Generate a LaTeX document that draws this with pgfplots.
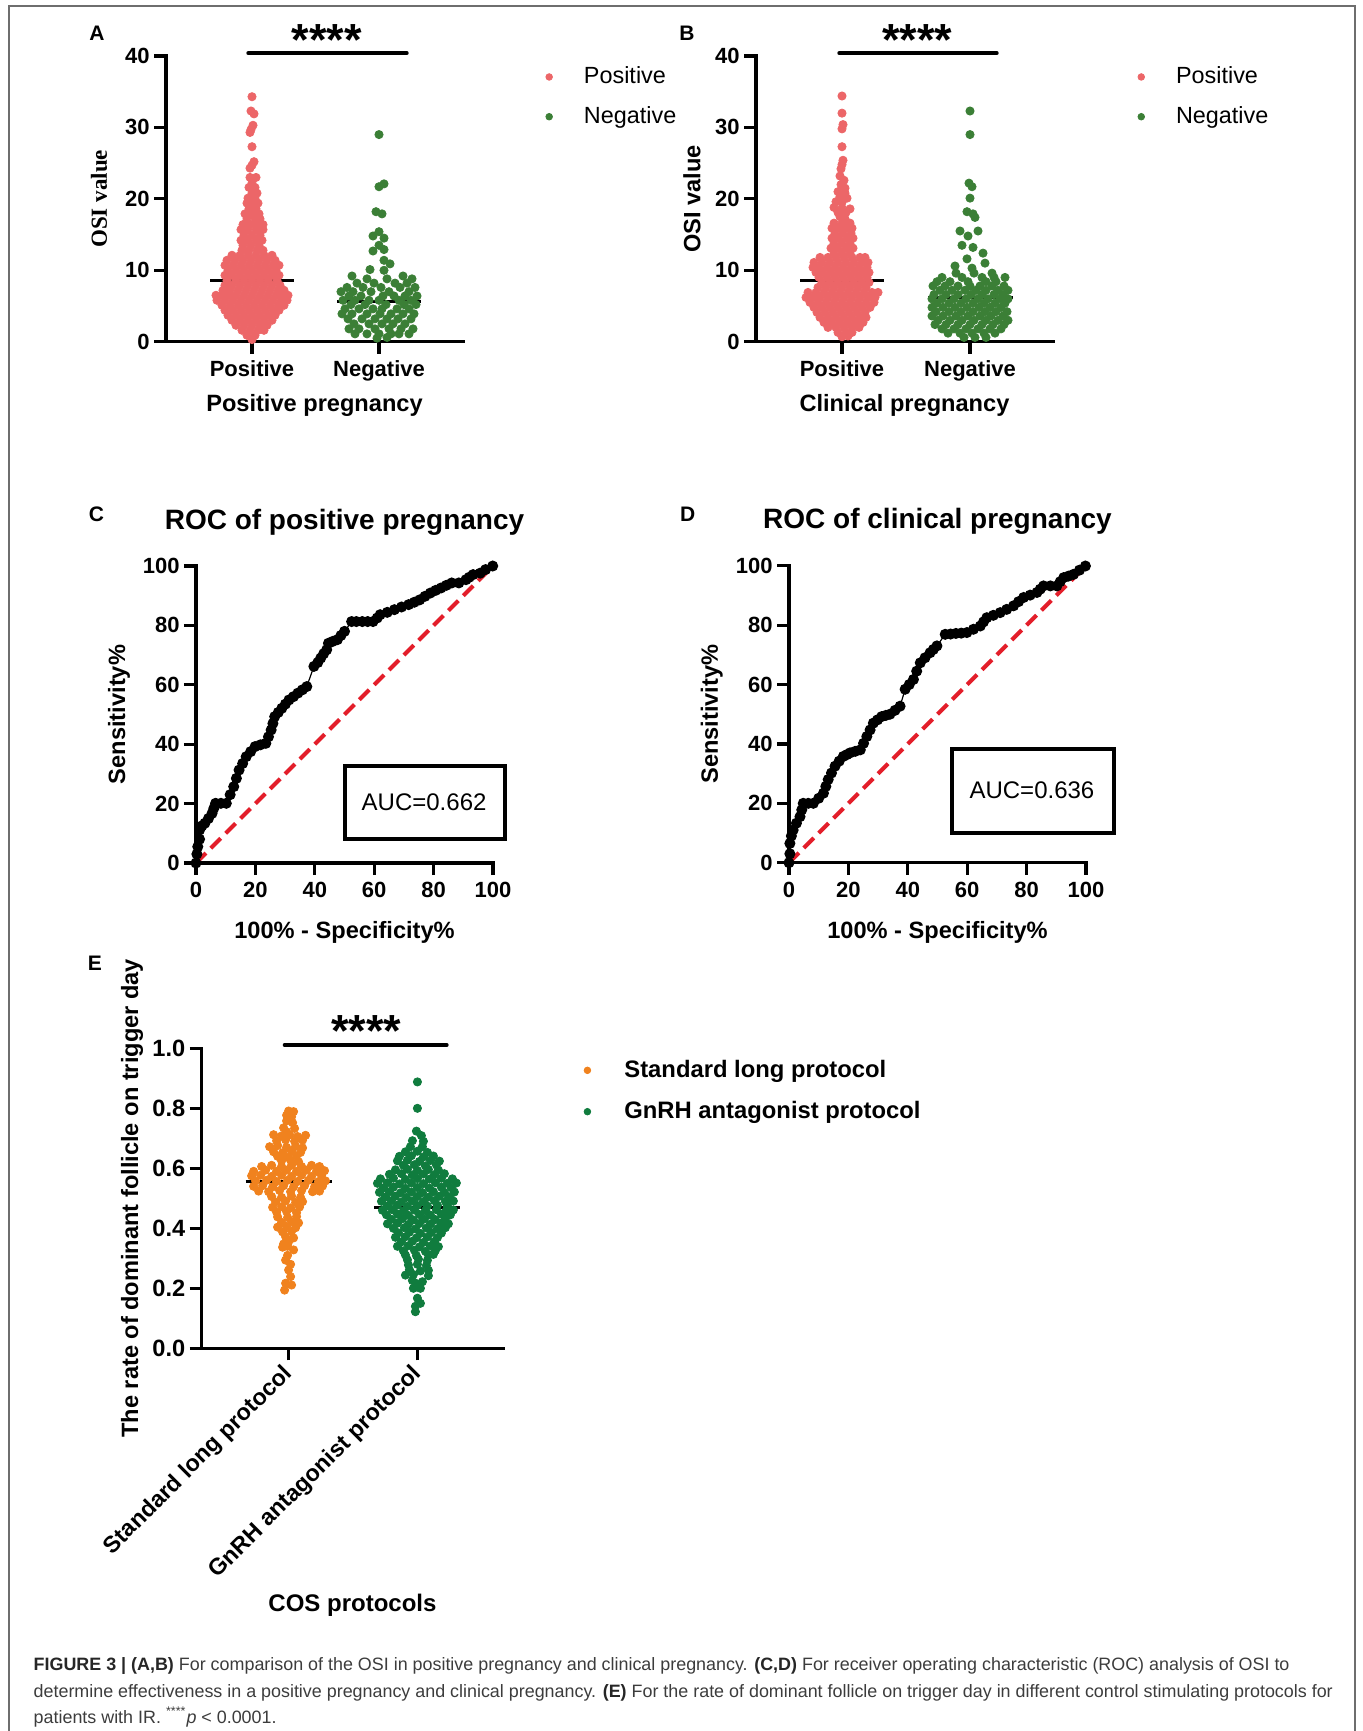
\documentclass[border=0pt]{standalone}
\usepackage{fontspec}
\setmainfont{Liberation Sans}
\newfontfamily\timesfont{Liberation Serif}
\usepackage{pgfplots}
\pgfplotsset{compat=1.18}

\definecolor{posred}{HTML}{EC6668}
\definecolor{neggreen}{HTML}{3B7F36}
\definecolor{stdorange}{HTML}{F0821E}
\definecolor{gnrhgreen}{HTML}{107C3E}
\definecolor{rocred}{HTML}{E31E2A}
\definecolor{framegray}{HTML}{6E6E6E}
\definecolor{captext}{HTML}{3C3C3C}

\newcommand\tk{\fontsize{11}{13}\selectfont\bfseries}
\newcommand\lb{\fontsize{11.8}{14}\selectfont\bfseries}
\newcommand\stars{\fontsize{22.5}{24}\selectfont\bfseries ****}

\pgfplotsset{
  gp/.style={
    scale only axis, clip=false,
    axis x line*=bottom, axis y line*=left,
    axis line style={-, line width=1.6pt, line cap=rect},
    outer axis line style={-}, inner axis line style={-},
    tick style={line width=1.6pt, black},
    tick align=outside, major tick length=6pt,
    ticklabel style={font=\tk},
    yticklabel style={inner xsep=2pt},
    /pgf/number format/assume math mode=true,
    label style={font=\lb},
  },
  dotlegend/.style={
    legend cell align=left,
    legend image code/.code={\draw[##1,mark size=1.65pt] plot coordinates {(0pt,0pt)}; \path (-2pt,0pt) (#1,0pt);},
  },
  roc/.style={
    scale only axis, width=148.5pt, height=148.5pt,
    xmin=0, xmax=100, ymin=0, ymax=100,
    xtick={0,20,40,60,80,100}, ytick={0,20,40,60,80,100},
    title style={at={(axis description cs:0.5,1.16)}, anchor=center, yshift=-7.7pt, font=\fontsize{14}{16}\selectfont\bfseries},
    xlabel={100\% - Specificity\%}, ylabel={Sensitivity\%},
    xlabel style={at={(axis description cs:0.5,-0.233)}, anchor=center},
  },
}

\begin{document}
\begin{tikzpicture}
\path[use as bounding box] (0,0) rectangle (681pt,-865.5pt);
\draw[framegray, line width=1pt] (4.5pt,-870pt) -- (4.5pt,-2.75pt) -- (677.5pt,-2.75pt) -- (677.5pt,-870pt);

% ---------------- A ----------------
\begin{axis}[gp, dotlegend=15.2pt, at={(83pt,-170.85pt)}, anchor=south west,
  width=148.5pt, height=142.85pt,
  xmin=0, xmax=297, ymin=0, ymax=40,
  xtick={86,213}, xticklabels={Positive,Negative},
  ytick={0,10,20,30,40},
  xlabel={Positive pregnancy}, ylabel={OSI value},
  xlabel style={at={(axis description cs:0.5,-0.222)}, anchor=center},
  ylabel style={at={(axis description cs:-0.2256,0.5)}, anchor=center, font=\timesfont\fontsize{11.5}{13}\selectfont\bfseries},
  legend style={draw=none, fill=none, inner sep=0pt, row sep=5.9pt, at={(axis description cs:1.274,0.977)}, anchor=north west, font=\fontsize{11.7}{13}\selectfont},
]
\addplot[forget plot, line width=1.5pt] coordinates {(44,8.54) (128,8.54)};
\addplot[forget plot, line width=1.5pt] coordinates {(171,5.6) (255,5.6)};
\addplot[only marks, mark=*, mark size=2.05pt, color=posred] coordinates {
(86,34.3) (85,32.3) (88,31.9) (87,30.3) (85,29.7) (84,29.3) (86,27.3) (88,25.2) (86,24.7) (84,24.3)
(84,23.0) (90,23.0) (86,22.2) (83,21.6) (89,21.6) (86,20.8) (91,20.8) (82,20.1) (89,20.1)
(81,19.4) (87,19.4) (92,19.4) (83,18.6) (90,18.6) (79,17.9) (86,17.9) (93,17.9)
(81,17.2) (89,17.2) (94,17.2) (77,16.4) (84,16.4) (91,16.4) (97,16.4)
(75,15.7) (82,15.7) (90,15.7) (97,15.7) (78,14.9) (86,14.9) (94,14.9)
(75,14.2) (82,14.2) (90,14.2) (96,14.2) (77,13.5) (85,13.5) (93,13.5)
(76,12.8) (83,12.8) (91,12.8) (97,12.8)
(66,12.1) (74,12.1) (82,12.1) (90,12.1) (98,12.1) (106,12.1)
(61,11.4) (69,11.4) (77,11.4) (85,11.4) (93,11.4) (101,11.4) (109,11.4)
(59,10.7) (67,10.7) (75,10.7) (83,10.7) (91,10.7) (99,10.7) (107,10.7) (113,10.7)
(62,10.0) (70,10.0) (78,10.0) (86,10.0) (94,10.0) (102,10.0) (110,10.0)
(59,9.3) (66,9.3) (74,9.3) (82,9.3) (90,9.3) (98,9.3) (106,9.3) (113,9.3)
(61,8.6) (70,8.6) (78,8.6) (86,8.6) (94,8.6) (102,8.6) (111,8.6)
(59,7.9) (66,7.9) (74,7.9) (82,7.9) (90,7.9) (98,7.9) (106,7.9) (114,7.9)
(57,7.2) (64,7.2) (72,7.2) (80,7.2) (88,7.2) (96,7.2) (104,7.2) (112,7.2) (118,7.2)
(50,6.5) (56,6.5) (63,6.5) (70,6.5) (78,6.5) (86,6.5) (94,6.5) (102,6.5) (110,6.5) (116,6.5) (122,6.5)
(51,5.8) (59,5.8) (67,5.8) (75,5.8) (83,5.8) (91,5.8) (99,5.8) (107,5.8) (115,5.8) (121,5.8)
(56,5.1) (64,5.1) (72,5.1) (80,5.1) (88,5.1) (96,5.1) (104,5.1) (112,5.1) (118,5.1)
(59,4.4) (67,4.4) (75,4.4) (83,4.4) (91,4.4) (99,4.4) (107,4.4) (113,4.4)
(62,3.7) (70,3.7) (78,3.7) (86,3.7) (94,3.7) (102,3.7) (109,3.7)
(66,3.0) (74,3.0) (82,3.0) (90,3.0) (98,3.0) (106,3.0)
(70,2.3) (78,2.3) (86,2.3) (94,2.3) (101,2.3)
(76,1.6) (84,1.6) (92,1.6) (98,1.6)
(81,0.9) (89,0.9) (86,0.3)};
\addlegendentry{Positive}
\addplot[only marks, mark=*, mark size=2.05pt, color=neggreen] coordinates {
(213,29.0) (213,21.7) (218,22.1) (210,18.2) (216,17.9) (213,15.4) (207,14.8) (218,14.5)
(213,13.5) (218,12.9) (207,12.7) (218,11.4) (224,10.9) (204,10.1) (218,10.0)
(186,9.2) (237,9.2) (201,8.8) (221,8.8) (246,8.8)
(191,8.2) (208,8.2) (229,8.2) (241,8.2)
(181,7.6) (197,7.6) (215,7.6) (234,7.6) (249,7.6)
(175,7.0) (187,7.0) (205,7.0) (223,7.0) (243,7.0)
(183,6.4) (195,6.4) (217,6.4) (228,6.4) (239,6.4) (251,6.4)
(177,5.8) (189,5.8) (203,5.8) (213,5.8) (233,5.8) (245,5.8)
(185,5.2) (199,5.2) (220,5.2) (238,5.2) (250,5.2)
(179,4.6) (193,4.6) (207,4.6) (216,4.6) (231,4.6) (243,4.6)
(176,3.9) (186,3.9) (201,3.9) (214,3.9) (225,3.9) (237,3.9) (248,3.9)
(182,3.2) (196,3.2) (209,3.2) (221,3.2) (232,3.2) (245,3.2)
(188,2.5) (203,2.5) (216,2.5) (227,2.5) (239,2.5)
(183,1.8) (193,1.8) (209,1.8) (223,1.8) (235,1.8) (247,1.8)
(189,1.1) (201,1.1) (213,1.1) (225,1.1) (233,1.1) (243,1.1)
(211,0.5) (221,0.6)};
\addlegendentry{Negative}
\addplot[forget plot, line width=2pt, line cap=round] coordinates {(82.3,40.4) (240.7,40.4)};
\node at (axis cs:160.7,42.3) {\stars};
\end{axis}

% ---------------- B ----------------
\begin{axis}[gp, dotlegend=15.2pt, at={(378pt,-170.85pt)}, anchor=south west,
  width=148.5pt, height=142.85pt,
  xmin=0, xmax=297, ymin=0, ymax=40,
  xtick={86,214}, xticklabels={Positive,Negative},
  ytick={0,10,20,30,40},
  xlabel={Clinical pregnancy}, ylabel={OSI value},
  xlabel style={at={(axis description cs:0.5,-0.222)}, anchor=center},
  ylabel style={at={(axis description cs:-0.2155,0.5)}, anchor=center},
  legend style={draw=none, fill=none, inner sep=0pt, row sep=5.9pt, at={(axis description cs:1.281,0.977)}, anchor=north west, font=\fontsize{11.7}{13}\selectfont},
]
\addplot[forget plot, line width=1.5pt] coordinates {(44,8.5) (128,8.5)};
\addplot[forget plot, line width=1.5pt] coordinates {(172,6.2) (257,6.2)};
\addplot[only marks, mark=*, mark size=2.05pt, color=posred] coordinates {
(86,34.4) (86,32.0) (87,30.4) (86,29.8) (86,27.3) (87,25.4) (86,24.8) (85,24.2)
(84,23.2) (88,22.6) (85,22.0) (89,21.5) (82,21.0) (89,20.8) (84,20.3) (91,20.1) (80,19.6)
(86,19.5) (78,18.8) (86,18.7) (94,18.6) (82,18.1) (90,18.1) (84,17.5) (89,17.2)
(78,16.6) (86,16.6) (94,16.6) (76,15.9) (83,15.9) (90,15.9) (96,15.9) (79,15.2) (87,15.2) (95,15.2)
(76,14.5) (83,14.5) (91,14.5) (97,14.5) (78,13.8) (86,13.8) (94,13.8)
(75,13.1) (82,13.1) (90,13.1) (97,13.1) (78,12.4) (86,12.4) (94,12.4)
(64,11.8) (72,11.8) (80,11.8) (88,11.8) (96,11.8) (104,11.8) (109,11.8)
(58,11.1) (66,11.1) (74,11.1) (82,11.1) (90,11.1) (98,11.1) (106,11.1) (112,11.1)
(57,10.4) (63,10.4) (71,10.4) (79,10.4) (87,10.4) (95,10.4) (103,10.4) (111,10.4)
(60,9.7) (67,9.7) (75,9.7) (83,9.7) (91,9.7) (99,9.7) (107,9.7) (113,9.7)
(63,9.0) (71,9.0) (79,9.0) (87,9.0) (95,9.0) (103,9.0) (111,9.0)
(66,8.3) (74,8.3) (82,8.3) (90,8.3) (98,8.3) (106,8.3) (113,8.3)
(62,7.6) (70,7.6) (78,7.6) (86,7.6) (94,7.6) (102,7.6) (110,7.6)
(52,6.9) (60,6.9) (68,6.9) (76,6.9) (84,6.9) (92,6.9) (100,6.9) (108,6.9) (116,6.9) (122,6.9)
(50,6.2) (57,6.2) (64,6.2) (72,6.2) (80,6.2) (88,6.2) (96,6.2) (104,6.2) (112,6.2) (119,6.2)
(54,5.5) (62,5.5) (70,5.5) (78,5.5) (86,5.5) (94,5.5) (102,5.5) (110,5.5) (118,5.5)
(58,4.8) (66,4.8) (74,4.8) (82,4.8) (90,4.8) (98,4.8) (106,4.8) (114,4.8)
(61,4.1) (69,4.1) (77,4.1) (85,4.1) (93,4.1) (101,4.1) (109,4.1)
(64,3.4) (72,3.4) (80,3.4) (88,3.4) (96,3.4) (104,3.4) (110,3.4)
(68,2.7) (76,2.7) (84,2.7) (92,2.7) (100,2.7) (107,2.7)
(72,2.0) (80,2.0) (88,2.0) (96,2.0) (103,2.0)
(82,1.3) (90,1.3) (96,1.3) (86,0.7) (92,0.8)};
\addlegendentry{Positive}
\addplot[only marks, mark=*, mark size=2.05pt, color=neggreen] coordinates {
(214,32.3) (214,29.0) (213,22.2) (216,21.7) (214,20.1) (211,18.2) (217,17.9) (219,17.4)
(204,15.5) (222,15.5) (212,14.8) (206,13.5) (217,13.2) (227,12.4) (211,11.6) (229,11.0) (199,10.6) (216,10.3)
(200,9.6) (218,9.6) (236,9.6)
(186,9.0) (206,9.0) (226,9.0) (238,9.0) (249,9.0)
(181,8.4) (194,8.4) (212,8.4) (230,8.4) (240,8.4)
(177,7.8) (189,7.8) (202,7.8) (214,7.8) (224,7.8) (236,7.8) (248,7.8)
(184,7.2) (196,7.2) (209,7.2) (220,7.2) (230,7.2) (242,7.2) (252,7.2)
(178,6.6) (190,6.6) (202,6.6) (215,6.6) (226,6.6) (238,6.6) (247,6.6)
(176,6.0) (186,6.0) (198,6.0) (210,6.0) (222,6.0) (232,6.0) (244,6.0) (252,6.0)
(181,5.4) (193,5.4) (205,5.4) (217,5.4) (228,5.4) (239,5.4) (249,5.4)
(176,4.8) (187,4.8) (199,4.8) (211,4.8) (223,4.8) (234,4.8) (245,4.8)
(180,4.2) (193,4.2) (205,4.2) (217,4.2) (229,4.2) (240,4.2) (251,4.2)
(176,3.6) (187,3.6) (200,3.6) (212,3.6) (224,3.6) (235,3.6) (247,3.6)
(182,3.0) (194,3.0) (206,3.0) (218,3.0) (230,3.0) (242,3.0) (252,3.0)
(179,2.4) (190,2.4) (202,2.4) (214,2.4) (226,2.4) (237,2.4) (248,2.4)
(186,1.8) (198,1.8) (210,1.8) (222,1.8) (234,1.8) (245,1.8)
(192,1.2) (204,1.2) (216,1.2) (228,1.2) (239,1.2)
(208,0.6) (219,0.6) (230,0.6)};
\addlegendentry{Negative}
\addplot[forget plot, line width=2pt, line cap=round] coordinates {(83.3,40.4) (240.7,40.4)};
\node at (axis cs:161.2,42.3) {\stars};
\end{axis}

% ---------------- C ----------------
\begin{axis}[gp, roc, at={(98pt,-431.5pt)}, anchor=south west,
  title={ROC of positive pregnancy},
  ylabel style={at={(axis description cs:-0.259,0.5)}, anchor=center},
]
\addplot[black, line width=0.6pt, mark=*, mark size=2.45pt] coordinates {
(0,0) (0.3,3) (0.6,5.5) (1.2,8) (1.2,11.1) (2,12.5) (3.0,13.4) (4.2,15) (5.4,16.7) (6,18.4) (6.6,20.1)
(8.4,20.1) (10.2,20.1) (11.5,23) (12.7,25.7) (13.6,28.5) (14.5,31.3) (15.7,33.5) (16.9,35.8) (18.4,37.5)
(19.9,39.2) (21.7,39.8) (23.5,40.3) (24.4,42.5) (25.3,44.8) (25.9,47) (26.5,49.3) (27.7,50.7) (28.9,52.1)
(30.1,53.5) (31.3,54.9) (32.8,56) (34.3,57.2) (35.8,58.3) (37.3,59.4) (39.7,66.2) (41,67.5) (42,69)
(43,70.5) (44,71.8) (44.6,74) (46,74.6) (47.6,75.2) (48.8,76.6) (50,78) (52.4,81.3) (54,81.3) (56,81.3)
(57.8,81.3) (59.6,81.3) (61,82.5) (62,83.6) (64.4,84.4) (66.8,85.3) (69.2,86.2) (71.6,87) (73.5,87.8)
(75.3,88.6) (77.1,89.8) (78.9,90.9) (80.7,91.8) (82.5,92.6) (84.3,93.5) (86.1,94.3) (88.5,94.3)
(90.9,95.4) (92,96.2) (93.3,97.1) (95.7,97.6) (97.5,98.8) (99.9,100)};
\addplot[rocred, line width=2pt, dash pattern=on 7pt off 3.5pt] coordinates {(0,0) (100,100)};
\draw[line width=2pt] (axis cs:50,8.2) rectangle (axis cs:103.9,32.7);
\node[font=\fontsize{12}{14}\selectfont] at (axis cs:76.8,20.4) {AUC=0.662};
\end{axis}

% ---------------- D ----------------
\begin{axis}[gp, roc, at={(394.5pt,-431.35pt)}, anchor=south west,
  title={ROC of clinical pregnancy},
  ylabel style={at={(axis description cs:-0.26,0.5)}, anchor=center},
]
\addplot[black, line width=0.6pt, mark=*, mark size=2.45pt] coordinates {
(0,0) (0.3,3) (0.3,6.5) (0.8,9) (1.4,11) (2.5,13.3) (3.7,15.5) (4.3,17.8) (4.8,20) (6.5,20) (8.2,20)
(10,21.7) (11.6,23.4) (12.4,25.7) (13.2,28) (14.3,30.2) (15.5,32.5) (16.9,34.2) (18.3,35.8) (19.5,36.4)
(20.6,37) (22.3,37.5) (24,38) (25.1,40.2) (26.2,42.5) (27.3,44.7) (28.4,47) (29.8,48.1) (31.2,49.2)
(32.6,49.6) (34,50) (35.7,51.3) (37.4,52.7) (39.1,58.4) (40.5,60) (41.9,61.7) (43,64.5) (44.2,67.3)
(45.8,69) (47.5,70.7) (48.6,71.8) (49.8,73) (52.6,76.9) (54.4,77) (56.2,77.2) (58,77.3) (59.9,77.5)
(62.1,78.6) (64.4,79.7) (65.5,81.1) (66.6,82.5) (68.8,83.3) (71.1,84.2) (73.3,85.3) (75.6,86.5)
(77.3,87.9) (79,89.3) (81.2,90.1) (83.5,91) (84.6,92.1) (85.7,93.2) (88,93.2) (90.2,93.2) (91.3,94.6)
(92.5,96) (94.1,96.5) (95.8,97.1) (97.8,98.5) (99.8,99.9)};
\addplot[rocred, line width=2pt, dash pattern=on 7pt off 3.5pt] coordinates {(0,0) (100,100)};
\draw[line width=2pt] (axis cs:54.8,9.9) rectangle (axis cs:109.3,38.2);
\node[font=\fontsize{12}{14}\selectfont] at (axis cs:81.8,24.5) {AUC=0.636};
\end{axis}

% ---------------- E ----------------
\begin{axis}[gp, dotlegend=16.3pt, at={(100.85pt,-674.15pt)}, anchor=south west,
  width=150.8pt, height=150pt,
  xmin=0, xmax=302, ymin=0, ymax=1,
  xtick={87,216}, xticklabels={Standard long protocol,GnRH antagonist protocol},
  xticklabel style={xshift=2.6pt, yshift=-2.6pt, rotate=45, anchor=east, font=\fontsize{11.6}{13}\selectfont\bfseries},
  ytick={0,0.2,0.4,0.6,0.8,1}, yticklabels={0.0,0.2,0.4,0.6,0.8,1.0},
  yticklabel style={font=\fontsize{11.8}{13}\selectfont\bfseries},
  xlabel={COS protocols}, ylabel={The rate of dominant follicle on trigger day},
  xlabel style={at={(axis description cs:0.5,-0.856)}, anchor=center, font=\fontsize{12}{14}\selectfont\bfseries},
  ylabel style={at={(axis description cs:-0.231,0.5)}, anchor=center},
  legend style={draw=none, fill=none, inner sep=0pt, row sep=6.55pt, at={(axis description cs:1.263,0.975)}, anchor=north west, font=\fontsize{11.9}{14}\selectfont\bfseries},
]
\addplot[forget plot, line width=1.5pt] coordinates {(44,0.555) (130,0.555)};
\addplot[forget plot, line width=1.5pt] coordinates {(173,0.469) (259,0.469)};
\addplot[only marks, mark=*, mark size=2.05pt, color=stdorange] coordinates {
(87,0.791) (92,0.789) (85,0.777) (90,0.772) (85,0.758) (91,0.752)
(82,0.735) (93,0.733) (85,0.722)
(72,0.712) (80,0.708) (88,0.712) (96,0.706) (104,0.710)
(75,0.692) (84,0.695) (93,0.690) (101,0.694)
(68,0.672) (76,0.676) (85,0.670) (94,0.673) (101,0.668)
(72,0.655) (81,0.652) (90,0.656) (99,0.653)
(76,0.640) (86,0.637) (95,0.641)
(80,0.625) (89,0.627) (97,0.622)
(60,0.606) (70,0.610) (80,0.606) (90,0.610) (100,0.606) (110,0.610) (118,0.606)
(52,0.590) (64,0.594) (75,0.590) (85,0.594) (95,0.590) (105,0.594) (115,0.590) (123,0.592)
(50,0.575) (59,0.577) (70,0.573) (80,0.577) (90,0.573) (100,0.577) (110,0.573) (120,0.576)
(54,0.558) (65,0.560) (75,0.556) (86,0.560) (96,0.556) (107,0.560) (117,0.556) (124,0.558)
(52,0.540) (61,0.542) (71,0.538) (82,0.542) (92,0.538) (103,0.542) (113,0.538) (121,0.541)
(57,0.524) (67,0.522) (78,0.526) (89,0.522) (100,0.526) (111,0.522) (118,0.524)
(70,0.506) (80,0.503) (90,0.507) (99,0.503)
(74,0.488) (84,0.491) (94,0.486) (101,0.489)
(71,0.470) (80,0.472) (89,0.468) (98,0.471)
(75,0.454) (85,0.456) (95,0.452)
(76,0.438) (86,0.436) (95,0.439)
(80,0.420) (90,0.422) (97,0.418)
(76,0.404) (85,0.406) (94,0.402)
(81,0.388) (90,0.390) (84,0.372) (92,0.368) (87,0.355) (82,0.348)
(86,0.340) (81,0.337) (92,0.328) (86,0.310) (84,0.294) (89,0.280)
(87,0.261) (89,0.239) (84,0.217) (90,0.211) (83,0.194)};
\addlegendentry{Standard long protocol}
\addplot[only marks, mark=*, mark size=2.05pt, color=gnrhgreen] coordinates {
(216,0.888) (216,0.800) (215,0.724) (220,0.709) (211,0.692) (222,0.690) (209,0.672) (221,0.672)
(204,0.655) (216,0.657) (226,0.653)
(198,0.640) (210,0.642) (222,0.638) (232,0.641)
(196,0.625) (206,0.627) (218,0.623) (229,0.626) (238,0.624)
(202,0.610) (213,0.612) (224,0.608) (235,0.611)
(194,0.595) (206,0.597) (216,0.593) (227,0.596) (237,0.594)
(188,0.580) (200,0.582) (211,0.578) (222,0.581) (233,0.579) (243,0.582)
(179,0.565) (192,0.567) (204,0.563) (216,0.566) (228,0.564) (240,0.567) (251,0.565)
(176,0.550) (186,0.552) (198,0.548) (210,0.551) (222,0.549) (234,0.552) (246,0.550) (255,0.551)
(182,0.535) (192,0.537) (204,0.533) (216,0.536) (228,0.534) (240,0.537) (250,0.535)
(178,0.520) (188,0.522) (199,0.518) (210,0.521) (221,0.519) (232,0.522) (243,0.520) (253,0.521)
(184,0.505) (194,0.507) (205,0.503) (216,0.506) (227,0.504) (238,0.507) (248,0.505)
(180,0.490) (190,0.492) (200,0.488) (211,0.491) (222,0.489) (233,0.492) (244,0.490) (252,0.491)
(186,0.475) (196,0.477) (206,0.473) (216,0.476) (226,0.474) (236,0.477) (246,0.475)
(181,0.460) (191,0.462) (202,0.458) (213,0.461) (224,0.459) (235,0.462) (245,0.460) (252,0.461)
(185,0.445) (196,0.447) (207,0.443) (218,0.446) (229,0.444) (240,0.447) (249,0.445)
(190,0.430) (201,0.432) (212,0.428) (223,0.431) (234,0.429) (244,0.432)
(186,0.415) (196,0.417) (207,0.413) (218,0.416) (229,0.414) (240,0.417) (247,0.415)
(192,0.400) (203,0.402) (214,0.398) (225,0.401) (236,0.399) (244,0.402)
(197,0.385) (208,0.387) (219,0.383) (230,0.386) (240,0.384)
(194,0.370) (204,0.372) (215,0.368) (226,0.371) (236,0.369)
(200,0.355) (211,0.357) (222,0.353) (233,0.356)
(196,0.340) (207,0.342) (218,0.338) (229,0.341) (237,0.339)
(202,0.325) (213,0.327) (224,0.323) (234,0.326)
(204,0.311) (215,0.309) (227,0.311) (232,0.313)
(206,0.295) (217,0.297) (226,0.293)
(207,0.278) (216,0.280) (225,0.276)
(208,0.262) (219,0.258) (227,0.260)
(204,0.244) (212,0.246) (227,0.242)
(211,0.226) (221,0.222)
(215,0.216) (212,0.200) (219,0.200)
(216,0.167) (219,0.150) (214,0.140) (214,0.122)};
\addlegendentry{GnRH antagonist protocol}
\addplot[forget plot, line width=2pt, line cap=round] coordinates {(83.1,1.011) (245.3,1.011)};
\node at (axis cs:164.7,1.059) {\stars};
\end{axis}

% panel letters
\begin{scope}[every node/.style={font=\fontsize{10.5}{12}\selectfont\bfseries}]
\node at (48.5pt,-16.5pt) {A};
\node at (343.5pt,-16.5pt) {B};
\node at (48.25pt,-257.25pt) {C};
\node at (343.8pt,-257.15pt) {D};
\node at (47.5pt,-481.75pt) {E};
\end{scope}

% caption
\begin{scope}[every node/.style={anchor=base west, inner sep=0pt, text=captext, font=\fontsize{8.95}{11}\selectfont}]
\node at (16.65pt,-835.3pt) {\textcolor{black!85}{\textbf{FIGURE 3 | (A,B)}} For comparison of the OSI in positive pregnancy and clinical pregnancy. \textcolor{black!85}{\textbf{(C,D)}} For receiver operating characteristic (ROC) analysis of OSI to};
\node at (16.65pt,-848.55pt) {determine effectiveness in a positive pregnancy and clinical pregnancy. \textcolor{black!85}{\textbf{(E)}} For the rate of dominant follicle on trigger day in different control stimulating protocols for};
\node at (16.65pt,-861.8pt) {patients with IR. \textsuperscript{****}\textit{p} < 0.0001.};
\end{scope}
\end{tikzpicture}
\end{document}
